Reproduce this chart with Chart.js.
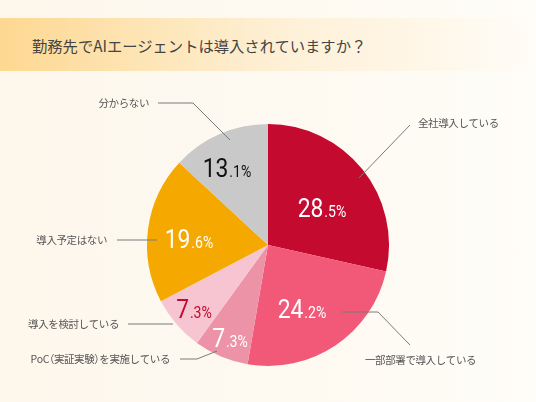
<!DOCTYPE html>
<html lang="ja">
<head>
<meta charset="utf-8">
<script src="https://cdn.jsdelivr.net/npm/chart.js@4.4.1/dist/chart.umd.min.js"></script>
<style>
  html, body { margin: 0; padding: 0; }
  body {
    width: 536px; height: 402px; overflow: hidden; position: relative;
    background: linear-gradient(90deg, #fdf7ec 0%, #fefaf2 60%, #fffdf8 100%);
    font-family: "Noto Sans CJK JP", "Noto Sans", sans-serif;
  }
  .title-band {
    position: absolute; left: 0; top: 18px; width: 536px; height: 53px;
    background: linear-gradient(90deg, #fdd891 0%, #fde4b3 25%, #fef1d9 55%, rgba(255,252,245,0) 100%);
  }
  .title {
    position: absolute; left: 32px; top: 33px; font-size: 15.3px; line-height: 24px;
    color: #444;
  }
  .wrap { position: absolute; left: 0; top: 0; width: 536px; height: 402px; }
</style>
</head>
<body>
<div class="title-band"></div>
<div class="title">勤務先でAIエージェントは導入されていますか？</div>
<div class="wrap"><canvas id="pie"></canvas></div>
<script>
// answers, clockwise from 12 o'clock
const categories = ['全社導入している', '一部部署で導入している', 'PoC（実証実験）を実施している', '導入を検討している', '導入予定はない', '分からない'];
const values = [28.5, 24.2, 7.3, 7.3, 19.6, 13.1];

const SLICE_COLORS = ['#c50a30', '#f25877', '#ed93a8', '#f6c5d1', '#f5a800', '#c9c9c9'];
const PCT_COLORS = ['#ffffff', '#ffffff', '#ffffff', '#c50a30', '#ffffff', '#111111'];

// label layout, pixels relative to the pie centre at radius 121
const PCT_OFFSETS = [[54, -37], [34, 64], [-38, 93], [-74, 64], [-79, -6], [-41, -77]];
const LEADERS = [
  [[91, -67], [142, -120]],
  [[74, 67], [110, 67], [142, 100]],
  [[-51, 106], [-71, 114], [-88, 114]],
  [[-95, 79], [-140, 79]],
  [[-111, -5], [-151, -5]],
  [[-38, -105], [-75, -142], [-110, -142]]
];
const NAME_POS = [[150, -122, 'left'], [97, 115, 'left'], [-98, 114, 'right'], [-149, 79, 'right'], [-161, -5, 'right'], [-119, -142, 'right']];

// draws text a bit tighter, with proportional full-width brackets (like palt)
function drawName(ctx, text, x, y, align, size) {
  const adv = [];
  let w = 0;
  for (const ch of text) {
    const narrow = ch === '（' || ch === '）';
    const a = narrow ? size * 0.5 : ctx.measureText(ch).width - 0.4;
    adv.push([ch, a]);
    w += a;
  }
  let px = align === 'right' ? x - w : x;
  ctx.textAlign = 'left';
  adv.forEach(([ch, a]) => {
    const shift = ch === '（' ? -size * 0.5 : 0;
    ctx.fillText(ch, px + shift, y);
    px += a;
  });
}

const labelPlugin = {
  id: 'pieLabels',
  afterDraw(chart) {
    const ctx = chart.ctx;
    const arc = chart.getDatasetMeta(0).data[0];
    if (!arc) return;
    const cx = arc.x, cy = arc.y, k = arc.outerRadius / 121;

    ctx.save();
    // leader lines
    ctx.strokeStyle = '#7a7a7a';
    ctx.lineWidth = 1;
    LEADERS.forEach(pts => {
      ctx.beginPath();
      pts.forEach((p, i) => {
        const x = cx + p[0] * k, y = cy + p[1] * k;
        if (i === 0) ctx.moveTo(x, y); else ctx.lineTo(x, y);
      });
      ctx.stroke();
    });

    // category names
    ctx.fillStyle = '#555';
    const nameSize = 10.5;
    ctx.font = nameSize + 'px "Noto Sans CJK JP", sans-serif';
    ctx.textBaseline = 'middle';
    categories.forEach((name, i) => {
      const [dx, dy, align] = NAME_POS[i];
      ctx.save();
      drawName(ctx, name, cx + dx * k, cy + dy * k, align, nameSize * 0.95);
      ctx.restore();
    });

    // percentages: big integer part, small decimal part
    ctx.textAlign = 'left';
    ctx.textBaseline = 'alphabetic';
    const sx = 0.88;
    values.forEach((v, i) => {
      const parts = v.toFixed(1).split('.');
      const big = parts[0];
      const small = '.' + parts[1] + '%';
      ctx.font = '400 26px Roboto, sans-serif';
      const wb = ctx.measureText(big).width;
      ctx.font = '400 16px Roboto, sans-serif';
      const ws = ctx.measureText(small).width;
      const total = (wb + ws + 1) * sx;
      const ax = cx + PCT_OFFSETS[i][0] * k - total / 2;
      const ay = cy + PCT_OFFSETS[i][1] * k + 9;
      ctx.save();
      ctx.translate(ax, ay);
      ctx.scale(sx, 1);
      ctx.fillStyle = PCT_COLORS[i];
      ctx.font = '400 26px Roboto, sans-serif';
      ctx.fillText(big, 0, 0);
      ctx.font = '400 16px Roboto, sans-serif';
      ctx.fillText(small, wb + 1, 0);
      ctx.restore();
    });
    ctx.restore();
  }
};

new Chart(document.getElementById('pie'), {
  type: 'pie',
  data: {
    labels: categories,
    datasets: [{
      data: values,
      backgroundColor: SLICE_COLORS,
      borderWidth: 0
    }]
  },
  options: {
    responsive: true,
    maintainAspectRatio: false,
    animation: false,
    layout: { padding: { top: 124, bottom: 36, left: 0, right: 0 } },
    plugins: {
      legend: { display: false },
      tooltip: { enabled: false }
    }
  },
  plugins: [labelPlugin]
});
</script>
</body>
</html>
